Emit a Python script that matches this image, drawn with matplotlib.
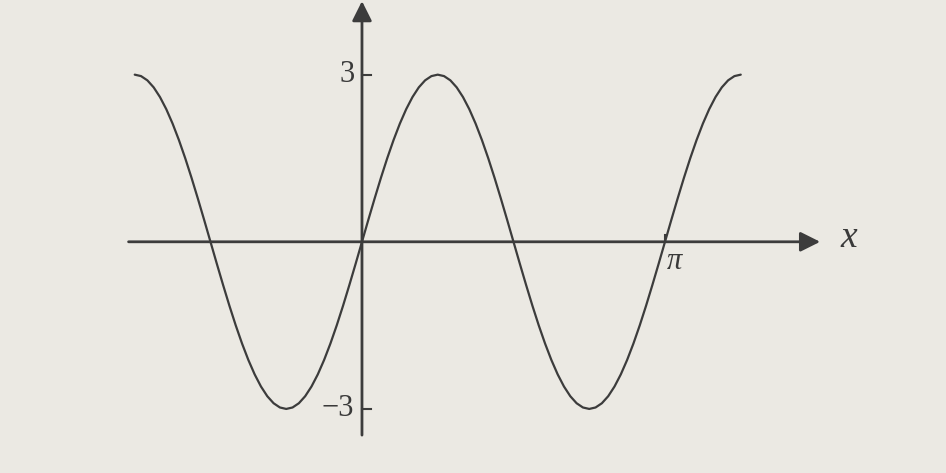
import numpy as np
import matplotlib.pyplot as plt

# curve samples: x in steps of pi/48, from -3pi/4 to 5pi/4
x_steps = list(range(-36, 61))
y_vals = [3, 2.974, 2.898, 2.772, 2.598, 2.38, 2.121, 1.826, 1.5, 1.148, 0.776, 0.392,
          0, -0.392, -0.776, -1.148, -1.5, -1.826, -2.121, -2.38, -2.598, -2.772, -2.898, -2.974,
          -3, -2.974, -2.898, -2.772, -2.598, -2.38, -2.121, -1.826, -1.5, -1.148, -0.776, -0.392,
          0, 0.392, 0.776, 1.148, 1.5, 1.826, 2.121, 2.38, 2.598, 2.772, 2.898, 2.974,
          3, 2.974, 2.898, 2.772, 2.598, 2.38, 2.121, 1.826, 1.5, 1.148, 0.776, 0.392,
          0, -0.392, -0.776, -1.148, -1.5, -1.826, -2.121, -2.38, -2.598, -2.772, -2.898, -2.974,
          -3, -2.974, -2.898, -2.772, -2.598, -2.38, -2.121, -1.826, -1.5, -1.148, -0.776, -0.392,
          0, 0.392, 0.776, 1.148, 1.5, 1.826, 2.121, 2.38, 2.598, 2.772, 2.898, 2.974,
          3]
y_ticks = [3, -3]
y_tick_labels = ["3", "\u22123"]
x_tick_pos = [np.pi]
x_tick_labels = ["\u03c0"]

bg = "#ebe9e3"
ink = "#3c3c3c"

fig = plt.figure(figsize=(9.46, 4.73), dpi=100, facecolor=bg)
ax = fig.add_axes([0, 0, 1, 1])
ax.set_facecolor(bg)
ax.set_xlim(-3.753, 6.055)
ax.set_ylim(-4.15, 4.34)
ax.axis("off")

xs = np.array(x_steps) * np.pi / 48
ax.plot(xs, y_vals, color=ink, lw=1.6, solid_capstyle="round",
        solid_joinstyle="round", zorder=3)

# axes with arrowheads
ax.annotate("", xy=(4.75, 0), xytext=(-2.42, 0),
            arrowprops=dict(arrowstyle="-|>", mutation_scale=30, lw=2.0,
                            color=ink, shrinkA=0, shrinkB=0))
ax.annotate("", xy=(0, 4.32), xytext=(0, -3.47),
            arrowprops=dict(arrowstyle="-|>", mutation_scale=30, lw=2.0,
                            color=ink, shrinkA=0, shrinkB=0))

serif = ["Liberation Serif", "DejaVu Serif"]
for yt, lab in zip(y_ticks, y_tick_labels):
    ax.plot([0, 0.09], [yt, yt], color=ink, lw=1.5)
    ax.text(-0.08, yt, lab, ha="right", va="center", fontsize=22,
            family=serif, color="#3a3a3a")
for xt, lab in zip(x_tick_pos, x_tick_labels):
    ax.plot([xt, xt], [0, 0.12], color=ink, lw=1.5)
    ax.text(xt + 0.1, -0.1, lab, ha="center", va="top", fontsize=22,
            family=serif, style="italic", color="#3a3a3a")

ax.text(5.05, 0.08, "x", ha="center", va="center", fontsize=27,
        family=serif, style="italic", color="#3a3a3a")

fig.savefig("out.png", dpi=100, facecolor=bg)
